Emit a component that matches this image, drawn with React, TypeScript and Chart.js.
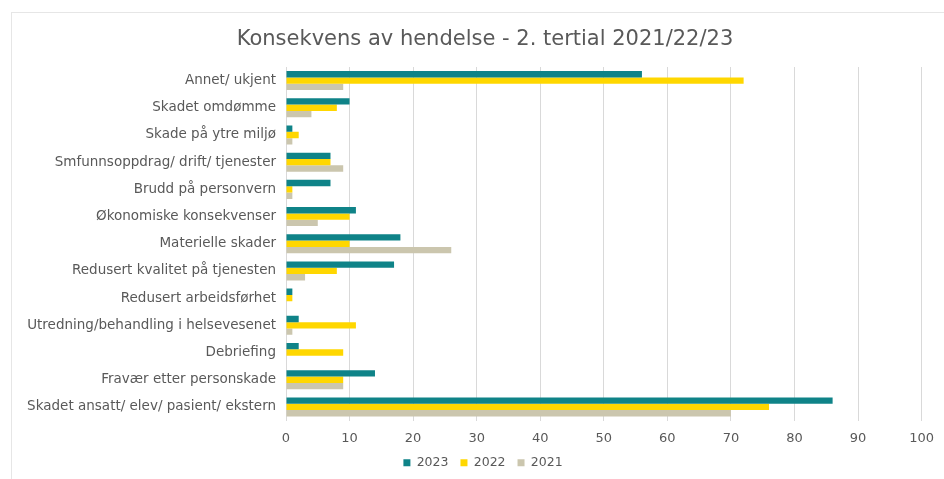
import React, { useEffect, useRef } from "react";
import { Chart, registerables } from "chart.js";

Chart.register(...registerables);

const categories = [
  "Annet/ ukjent",
  "Skadet omdømme",
  "Skade på ytre miljø",
  "Smfunnsoppdrag/ drift/ tjenester",
  "Brudd på personvern",
  "Økonomiske konsekvenser",
  "Materielle skader",
  "Redusert kvalitet på tjenesten",
  "Redusert arbeidsførhet",
  "Utredning/behandling i helsevesenet",
  "Debriefing",
  "Fravær etter personskade",
  "Skadet ansatt/ elev/ pasient/ ekstern",
];

const values2023 = [56, 10, 1, 7, 7, 11, 18, 17, 1, 2, 2, 14, 86];
const values2022 = [72, 8, 2, 7, 1, 10, 10, 8, 1, 11, 9, 9, 76];
const values2021 = [9, 4, 1, 9, 1, 5, 26, 3, 0, 1, 0, 9, 70];

const xTicks = [0, 10, 20, 30, 40, 50, 60, 70, 80, 90, 100];

const titleText = "Konsekvens av hendelse - 2. tertial 2021/22/23";

const FONT = "'DejaVu Sans', Verdana, sans-serif";
const TEXT_COLOR = "#595959";

export default function App() {
  const canvasRef = useRef<HTMLCanvasElement | null>(null);

  useEffect(() => {
    document.body.style.margin = "0";
    const canvas = canvasRef.current;
    if (!canvas) return;

    const titlePlugin = {
      id: "customTitle",
      afterLayout(chart: any) {
        if (chart.legend) {
          chart.legend.left += 16;
          chart.legend.right += 16;
        }
      },
      afterDraw(chart: any) {
        const ctx = chart.ctx;
        ctx.save();
        ctx.font = `21px ${FONT}`;
        ctx.fillStyle = TEXT_COLOR;
        ctx.textAlign = "center";
        ctx.textBaseline = "middle";
        ctx.fillText(titleText, 485, 40);
        ctx.restore();
      },
    };

    const chart = new Chart(canvas, {
      type: "bar",
      data: {
        labels: categories,
        datasets: [
          {
            label: "2023",
            data: values2023,
            backgroundColor: "#0F8388",
            categoryPercentage: 0.7,
            barPercentage: 1,
          },
          {
            label: "2022",
            data: values2022,
            backgroundColor: "#FFD700",
            categoryPercentage: 0.7,
            barPercentage: 1,
          },
          {
            label: "2021",
            data: values2021,
            backgroundColor: "#CBC6AE",
            categoryPercentage: 0.7,
            barPercentage: 1,
          },
        ],
      },
      plugins: [titlePlugin],
      options: {
        indexAxis: "y",
        animation: false,
        responsive: false,
        maintainAspectRatio: false,
        layout: { padding: { top: 67, left: 10, right: 20, bottom: 0 } },
        plugins: {
          title: { display: false },
          tooltip: { enabled: false },
          legend: {
            position: "bottom",
            labels: {
              boxWidth: 7,
              boxHeight: 7,
              padding: 12,
              color: TEXT_COLOR,
              font: { family: FONT, size: 12.5 },
            },
          },
        },
        scales: {
          x: {
            min: 0,
            max: 100,
            afterBuildTicks: (scale: any) => {
              scale.ticks = xTicks.map((v) => ({ value: v }));
            },
            afterFit: (scale: any) => {
              scale.height = 24;
            },
            grid: { color: "#d9d9d9", drawTicks: false },
            border: { display: false },
            ticks: {
              color: TEXT_COLOR,
              padding: 10,
              maxRotation: 0,
              font: { family: FONT, size: 13 },
            },
          },
          y: {
            afterFit: (scale: any) => {
              scale.width = 276;
            },
            grid: { display: false, drawTicks: false },
            border: { display: true, color: "#d9d9d9" },
            ticks: {
              color: TEXT_COLOR,
              padding: 10,
              autoSkip: false,
              font: { family: FONT, size: 13.5 },
            },
          },
        },
      },
    } as any);

    return () => chart.destroy();
  }, []);

  return (
    <div style={{ position: "relative", width: 944, height: 479, background: "#fff", overflow: "hidden" }}>
      <div
        style={{
          position: "absolute",
          left: 11,
          top: 12,
          width: 960,
          height: 500,
          border: "1px solid #e6e6e6",
        }}
      />
      <canvas
        ref={canvasRef}
        width={944}
        height={479}
        style={{ position: "absolute", left: 0, top: 0, width: 944, height: 479 }}
      />
    </div>
  );
}
